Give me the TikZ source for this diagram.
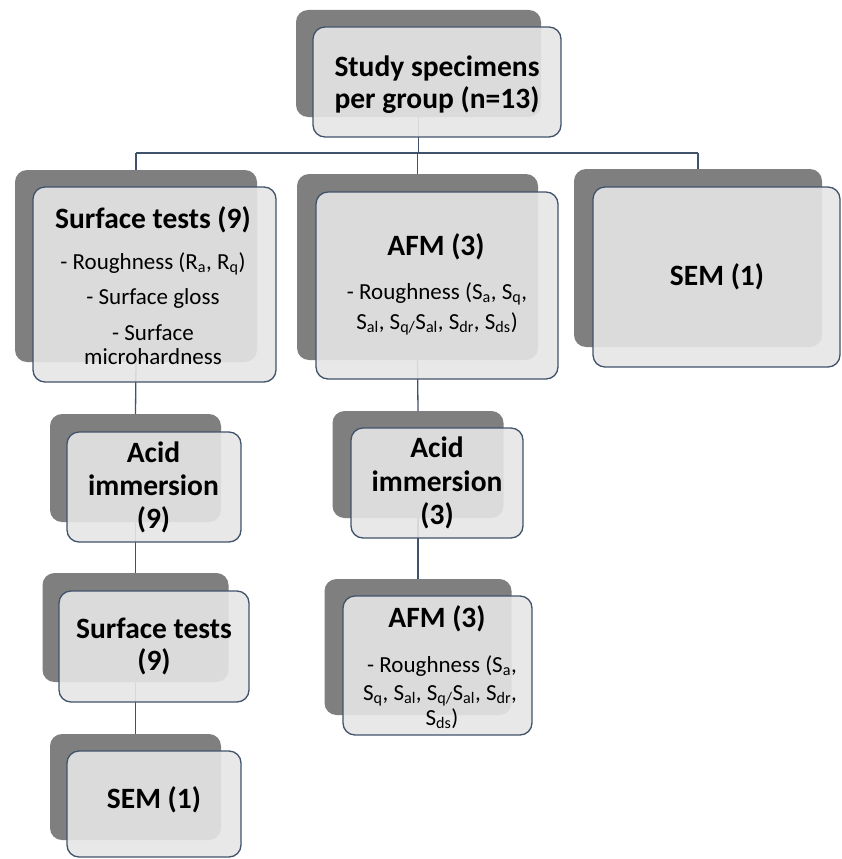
\documentclass[tikz,border=0pt]{standalone}
\usepackage{fontspec}
\setmainfont{Carlito}
\definecolor{edge}{HTML}{41536B}
\definecolor{shade}{HTML}{7F7F7F}
\definecolor{panel}{HTML}{E6E6E6}
\begin{document}
\begin{tikzpicture}[x=1pt,y=-1pt,
  darkbox/.style={fill=shade, draw=none, rounded corners=12pt, inner sep=0pt, outer sep=0pt},
  frontbox/.style={fill=panel, fill opacity=0.9, draw=edge, line width=1.3pt, rounded corners=12pt, inner sep=0pt, outer sep=0pt},
  conn/.style={draw=edge, line width=1.3pt},
  ttl/.style={anchor=base, inner sep=0pt, font=\fontsize{29.5}{33}\selectfont\bfseries},
  txt/.style={anchor=base, inner sep=0pt, font=\fontsize{23}{27}\selectfont}]
\useasboundingbox[fill=white] (0,0) rectangle (842,859);

% shadow (dark) boxes
\node[darkbox, minimum width=245pt, minimum height=107pt] (dT)  at (418.5,63.5) {};
\node[darkbox, minimum width=242pt, minimum height=192pt] (dL1) at (136,266) {};
\node[darkbox, minimum width=241pt, minimum height=186pt] (dM1) at (417.5,267) {};
\node[darkbox, minimum width=248pt, minimum height=178pt] (dR1) at (698,258) {};
\node[darkbox, minimum width=171pt, minimum height=108pt] (dL2) at (135.5,468) {};
\node[darkbox, minimum width=186pt, minimum height=109pt] (dL3) at (135.5,627.5) {};
\node[darkbox, minimum width=171pt, minimum height=106pt] (dL4) at (135.5,787) {};
\node[darkbox, minimum width=171pt, minimum height=107pt] (dM2) at (418,464.5) {};
\node[darkbox, minimum width=187pt, minimum height=136pt] (dM3) at (418,647) {};

% connectors
\coordinate (bus) at (0,153);
\draw[conn] (dT.south) -- (dT.south |- bus);
\draw[conn] (dL1.north |- bus) -- (dR1.north |- bus);
\draw[conn] (dL1.north |- bus) -- (dL1.north);
\draw[conn] (dM1.north |- bus) -- (dM1.north);
\draw[conn] (dR1.north |- bus) -- (dR1.north);
\draw[conn] (dL1.south) -- (dL2.north);
\draw[conn] (dL2.south) -- (dL3.north);
\draw[conn] (dL3.south) -- (dL4.north);
\draw[conn] (dM1.south) -- (dM2.north);
\draw[conn] (dM2.south) -- (dM3.north);

% front boxes
\node[frontbox, minimum width=248pt, minimum height=110pt] (fT)  at (437,82) {};
\node[frontbox, minimum width=243pt, minimum height=195pt] (fL1) at (154.5,284.5) {};
\node[frontbox, minimum width=242pt, minimum height=187pt] (fM1) at (437,285.5) {};
\node[frontbox, minimum width=247pt, minimum height=180pt] (fR1) at (716.5,277) {};
\node[frontbox, minimum width=174pt, minimum height=110pt] (fL2) at (154,487) {};
\node[frontbox, minimum width=190pt, minimum height=111pt] (fL3) at (154,646.5) {};
\node[frontbox, minimum width=174pt, minimum height=106pt] (fL4) at (154,804) {};
\node[frontbox, minimum width=172pt, minimum height=110pt] (fM2) at (437,483) {};
\node[frontbox, minimum width=189pt, minimum height=139pt] (fM3) at (437.5,665.5) {};

% texts
\node[ttl] (tTa) at (437,76) {Study specimens};
\node[ttl] (tTb) at (437,108) {per group (n=13)};

\node[ttl] (tL1a) at (153,228) {Surface tests (9)};
\node[txt] (tL1b) at (153,269) {- Roughness (R\textsubscript{a}, R\textsubscript{q})};
\node[txt] (tL1c) at (153,304) {- Surface gloss};
\node[txt] (tL1d) at (153,340) {- Surface};
\node[txt] (tL1e) at (153,364) {microhardness};

\node[ttl] (tM1a) at (436,255) {AFM (3)};
\node[txt] (tM1b) at (437,299) {- Roughness (S\textsubscript{a}, S\textsubscript{q},};
\node[txt] (tM1c) at (437,329) {S\textsubscript{al}, S\textsubscript{q/}S\textsubscript{al}, S\textsubscript{dr}, S\textsubscript{ds})};

\node[ttl] (tR1) at (717,285) {SEM (1)};

\node[ttl] (tL2a) at (153.5,462) {Acid};
\node[ttl] (tL2b) at (153.5,495) {immersion};
\node[ttl] (tL2c) at (153.5,528) {(9)};

\node[ttl] (tL3a) at (154,638) {Surface tests};
\node[ttl] (tL3b) at (154,670) {(9)};

\node[ttl] (tL4) at (154,808) {SEM (1)};

\node[ttl] (tM2a) at (437,457) {Acid};
\node[ttl] (tM2b) at (437,491) {immersion};
\node[ttl] (tM2c) at (437,524) {(3)};

\node[ttl] (tM3a) at (437,627) {AFM (3)};
\node[txt] (tM3b) at (442,672) {- Roughness (S\textsubscript{a},};
\node[txt] (tM3c) at (440,700) {S\textsubscript{q}, S\textsubscript{al}, S\textsubscript{q/}S\textsubscript{al}, S\textsubscript{dr},};
\node[txt] (tM3d) at (442,725) {S\textsubscript{ds})};
\end{tikzpicture}
\end{document}
